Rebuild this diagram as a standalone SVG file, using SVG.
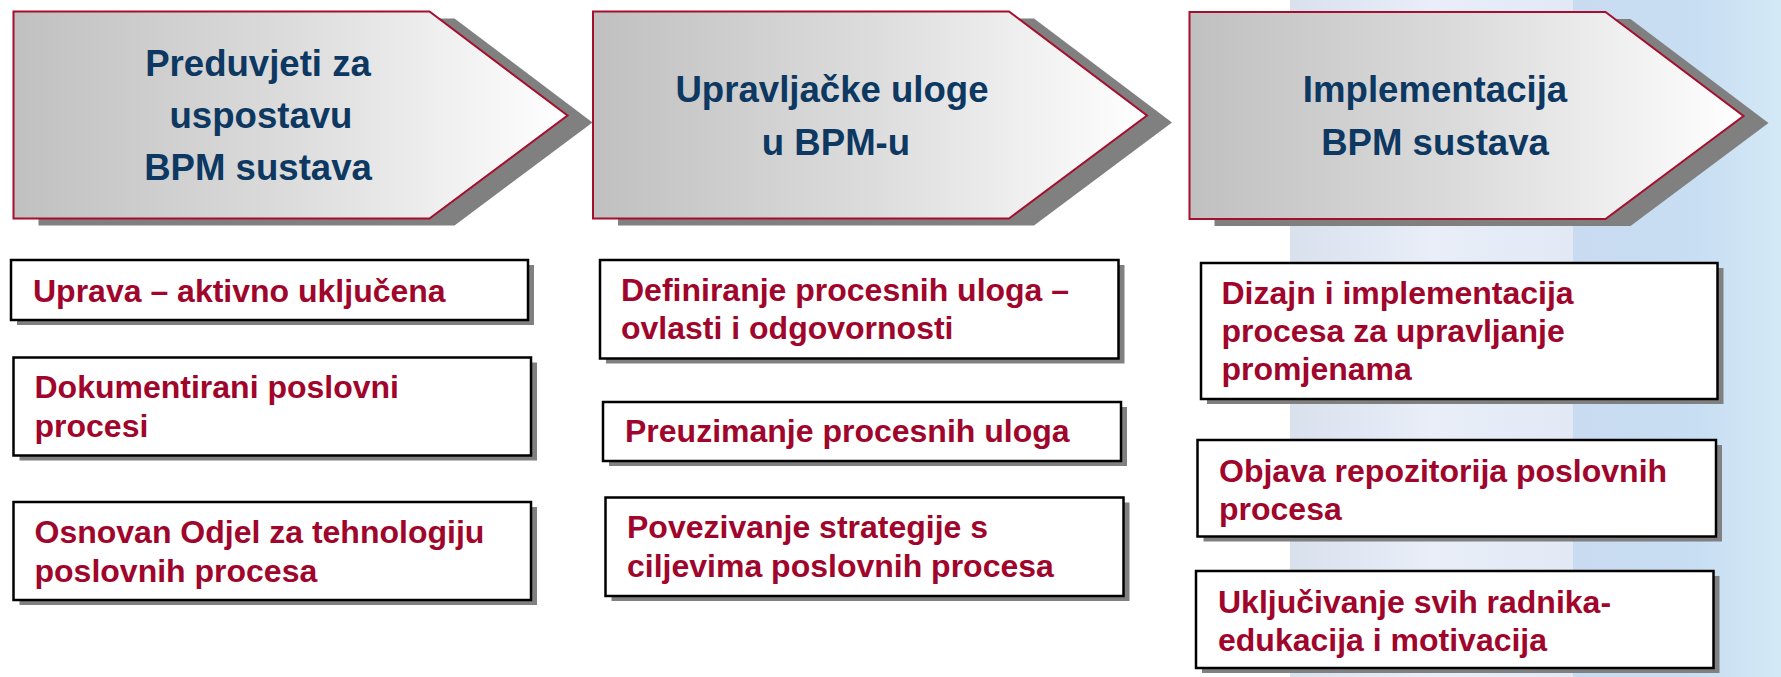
<svg xmlns="http://www.w3.org/2000/svg" width="1781" height="677" viewBox="0 0 1781 677">
<style>
.title{font-family:"Liberation Sans",Arial,sans-serif;font-weight:bold;font-size:36.6px;fill:#0d3862;text-anchor:middle}
.item{font-family:"Liberation Sans",Arial,sans-serif;font-weight:bold;font-size:32px;fill:#a0052b}
.arrow{fill:url(#arrowGrad);stroke:#a50f2d;stroke-width:2}
.ashadow{fill:#808080}
.box{fill:#ffffff;stroke:#000000;stroke-width:2.5}
.bshadow{fill:#808080}
</style>
<defs>
<linearGradient id="arrowGrad" x1="0" y1="0" x2="1" y2="0">
<stop offset="0" stop-color="#c0c0c0"/>
<stop offset="0.5" stop-color="#dcdcdc"/>
<stop offset="1" stop-color="#ffffff"/>
</linearGradient>
<linearGradient id="bg1" x1="0" y1="0" x2="1" y2="0">
<stop offset="0" stop-color="#d9e1ed"/>
<stop offset="0.5" stop-color="#e9eef8"/>
<stop offset="1" stop-color="#e2e9f5"/>
</linearGradient>
<linearGradient id="bg2" x1="0" y1="0" x2="1" y2="0">
<stop offset="0" stop-color="#c9dbf0"/>
<stop offset="0.6" stop-color="#c8def2"/>
<stop offset="1" stop-color="#d4e9f6"/>
</linearGradient>
<path id="chev" d="M0,0 L416,0 L554,104 L416,207 L0,207 Z"/>
</defs>

<rect x="0" y="0" width="1781" height="677" fill="#ffffff"/>
<g id="background">
<rect x="1290" y="0" width="283" height="677" fill="url(#bg1)"/>
<rect x="1573" y="0" width="208" height="677" fill="url(#bg2)"/>
</g>

<g id="connectors"></g>

<g id="stage1">
<use href="#chev" class="ashadow" x="38.5" y="18.5"/>
<use href="#chev" class="arrow" x="13.5" y="11.5"/>
<text class="title" x="258" y="76">Preduvjeti za</text>
<text class="title" x="261" y="128">uspostavu</text>
<text class="title" x="258" y="180">BPM sustava</text>
</g>

<g id="stage2">
<use href="#chev" class="ashadow" x="618" y="18.5"/>
<use href="#chev" class="arrow" x="593" y="11.5"/>
<text class="title" x="832" y="102">Upravljačke uloge</text>
<text class="title" x="836" y="155">u BPM-u</text>
</g>

<g id="stage3">
<use href="#chev" class="ashadow" x="1214.5" y="19"/>
<use href="#chev" class="arrow" x="1189.5" y="12"/>
<text class="title" x="1435" y="102">Implementacija</text>
<text class="title" x="1435" y="155">BPM sustava</text>
</g>

<g id="box-uprava">
<rect class="bshadow" x="17" y="265" width="517" height="60"/>
<rect class="box" x="11" y="260" width="517" height="60"/>
<text class="item" x="33" y="302">Uprava – aktivno uključena</text>
</g>

<g id="box-dokumentirani">
<rect class="bshadow" x="19.5" y="362.5" width="517.5" height="98"/>
<rect class="box" x="13.5" y="357.5" width="517.5" height="98"/>
<text class="item" x="34.5" y="398">Dokumentirani poslovni</text>
<text class="item" x="34.5" y="437">procesi</text>
</g>

<g id="box-odjel">
<rect class="bshadow" x="19.5" y="507" width="517.5" height="98"/>
<rect class="box" x="13.5" y="502" width="517.5" height="98"/>
<text class="item" x="34.5" y="543">Osnovan Odjel za tehnologiju</text>
<text class="item" x="34.5" y="582">poslovnih procesa</text>
</g>

<g id="box-definiranje">
<rect class="bshadow" x="606" y="265" width="518.5" height="98.5"/>
<rect class="box" x="600" y="260" width="518.5" height="98.5"/>
<text class="item" x="621" y="301">Definiranje procesnih uloga –</text>
<text class="item" x="621" y="339">ovlasti i odgovornosti</text>
</g>

<g id="box-preuzimanje">
<rect class="bshadow" x="609" y="407" width="518" height="59"/>
<rect class="box" x="603" y="402" width="518" height="59"/>
<text class="item" x="625" y="442">Preuzimanje procesnih uloga</text>
</g>

<g id="box-povezivanje">
<rect class="bshadow" x="611.5" y="502.5" width="518" height="98.5"/>
<rect class="box" x="605.5" y="497.5" width="518" height="98.5"/>
<text class="item" x="627" y="538">Povezivanje strategije s</text>
<text class="item" x="627" y="577">ciljevima poslovnih procesa</text>
</g>

<g id="box-dizajn">
<rect class="bshadow" x="1207" y="268" width="516.5" height="136"/>
<rect class="box" x="1201" y="263" width="516.5" height="136"/>
<text class="item" x="1221.5" y="304">Dizajn i implementacija</text>
<text class="item" x="1221.5" y="342">procesa za upravljanje</text>
<text class="item" x="1221.5" y="380">promjenama</text>
</g>

<g id="box-objava">
<rect class="bshadow" x="1203.5" y="445" width="518.5" height="96.5"/>
<rect class="box" x="1197.5" y="440" width="518.5" height="96.5"/>
<text class="item" x="1219" y="481.5">Objava repozitorija poslovnih</text>
<text class="item" x="1219" y="519.5">procesa</text>
</g>

<g id="box-ukljucivanje">
<rect class="bshadow" x="1202" y="576" width="517.5" height="97"/>
<rect class="box" x="1196" y="571" width="517.5" height="97"/>
<text class="item" x="1218" y="612.5">Uključivanje svih radnika-</text>
<text class="item" x="1218" y="650.5">edukacija i motivacija</text>
</g>
</svg>
